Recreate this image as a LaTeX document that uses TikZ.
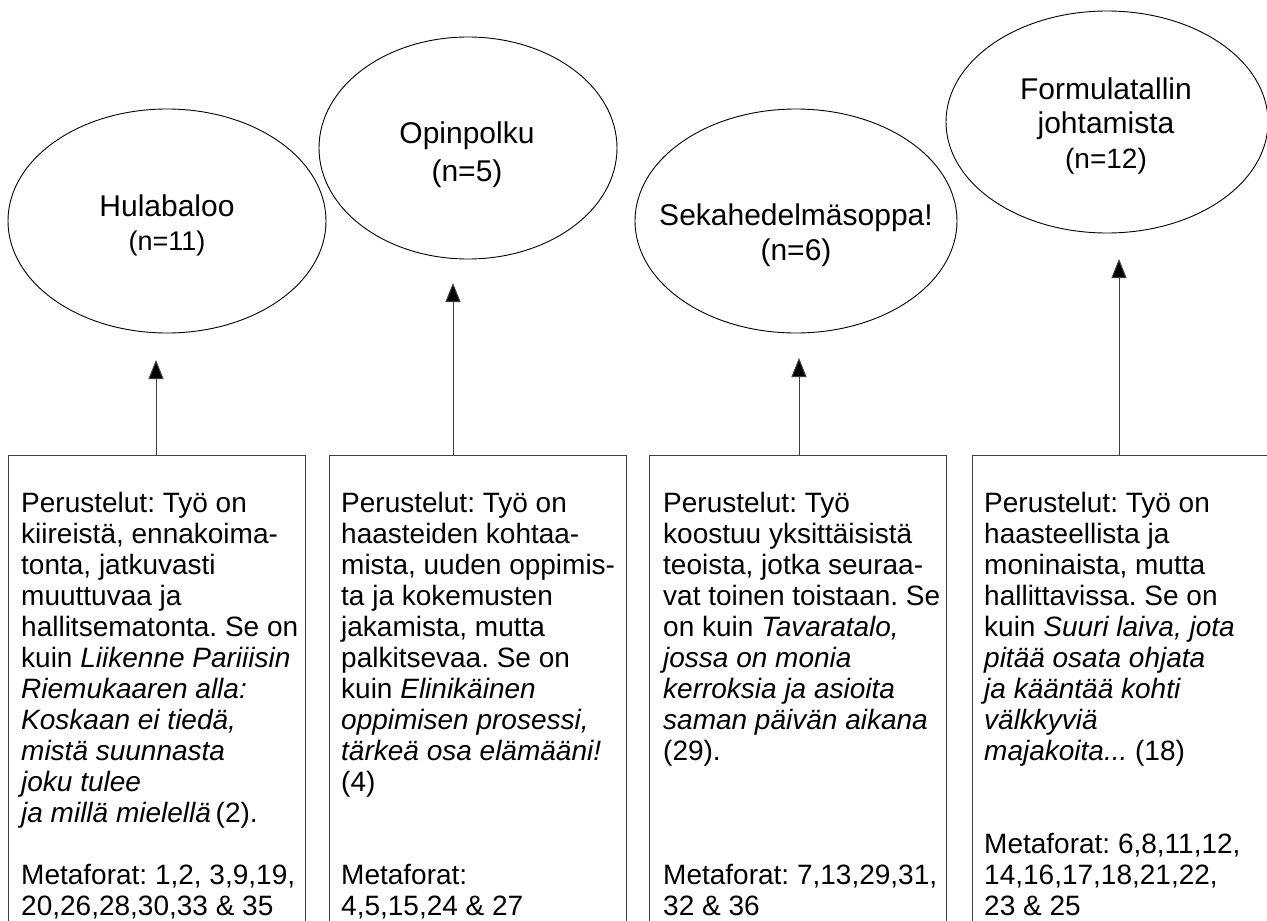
\documentclass[tikz,border=0pt]{standalone}
\usepackage{fontspec}
\setmainfont{Liberation Sans}
\frenchspacing
\usetikzlibrary{shapes.geometric,arrows.meta}
\tikzset{
  oval/.style={draw=black, line width=0.9pt, ellipse, inner sep=0pt},
  textbox/.style={draw=black!75, line width=1pt, rectangle, inner sep=0pt, anchor=north west, minimum width=297pt, minimum height=480pt},
  boxtext/.style={anchor=base west, inner sep=0pt},
  ovaltext/.style={anchor=base, inner sep=0pt},
  arr/.style={draw=black!75, line width=1pt, -{Triangle[length=19pt,width=15pt,fill=black]}},
}
\newcommand{\bodytext}[1]{\parbox[t]{330pt}{\raggedright\frenchspacing\fontsize{28}{31}\selectfont #1}}
\newcommand{\ovaltxt}[2]{\parbox[t]{330pt}{\centering\fontsize{30}{#1}\selectfont #2}}
\begin{document}
\begin{tikzpicture}[x=1pt,y=-1pt]
\clip (0,0) rectangle (1267,921);
\fill[white] (0,0) rectangle (1267,921);

% ellipses
\node[oval, minimum width=318pt, minimum height=224pt] (e1) at (167,221) {};
\node[oval, minimum width=298pt, minimum height=222pt] (e2) at (468,148) {};
\node[oval, minimum width=322pt, minimum height=224pt] (e3) at (796,221) {};
\node[oval, minimum width=322pt, minimum height=222pt] (e4) at (1107,122) {};

\node[ovaltext] (t1) at (167,216) {\ovaltxt{34}{Hulabaloo\\{\fontsize{27}{34}\selectfont (n=11)}}};
\node[ovaltext] (t2) at (467,143) {\ovaltxt{38}{Opinpolku\\(n=5)}};
\node[ovaltext] (t3) at (796,225) {\ovaltxt{35}{Sekahedelmäsoppa!\\(n=6)}};
\node[ovaltext] (t4) at (1106,99) {\ovaltxt{34.5}{Formulatallin\\johtamista\\{\fontsize{28}{34}\selectfont (n=12)}}};

% boxes
\node[textbox] (b1) at (8,455) {};
\node[textbox] (b2) at (329,455) {};
\node[textbox] (b3) at (649,455) {};
\node[textbox] (b4) at (972,455) {};

\node[boxtext] (x1) at (21,512) {\bodytext{Perustelut: Työ on\\
kiireistä, ennakoima-\\
tonta, jatkuvasti\\
muuttuvaa ja\\
hallitsematonta. Se on\\
kuin \textit{Liikenne Pariiisin}\\
\textit{Riemukaaren alla:}\\
\textit{Koskaan ei tiedä,}\\
\textit{mistä suunnasta}\\
\textit{joku tulee}\\
\textit{ja millä mielellä}\,(2).\\[31pt]
Metaforat: 1,2, 3,9,19,\\
20,26,28,30,33 \& 35}};

\node[boxtext] (x2) at (341,512) {\bodytext{Perustelut: Työ on\\
haasteiden kohtaa-\\
mista, uuden oppimis-\\
ta ja kokemusten\\
jakamista, mutta\\
palkitsevaa. Se on\\
kuin \textit{Elinikäinen}\\
\textit{oppimisen prosessi,}\\
\textit{tärkeä osa elämääni!}\\
(4)\\[62pt]
Metaforat:\\
4,5,15,24 \& 27}};

\node[boxtext] (x3) at (663,512) {\bodytext{Perustelut: Työ\\
koostuu yksittäisistä\\
teoista, jotka seuraa-\\
vat toinen toistaan. Se\\
on kuin \textit{Tavaratalo,}\\
\textit{jossa on monia}\\
\textit{kerroksia ja asioita}\\
\textit{saman päivän aikana}\\
(29).\\[93pt]
Metaforat: 7,13,29,31,\\
32 \& 36}};

\node[boxtext] (x4) at (984,512) {\bodytext{Perustelut: Työ on\\
haasteellista ja\\
moninaista, mutta\\
hallittavissa. Se on\\
kuin \textit{Suuri laiva, jota}\\
\textit{pitää osata ohjata}\\
\textit{ja kääntää kohti}\\
\textit{välkkyviä}\\
\textit{majakoita...} (18)\\[62pt]
Metaforat: 6,8,11,12,\\
14,16,17,18,21,22,\\
23 \& 25}};

% arrow tips
\coordinate (p1) at (156,360);
\coordinate (p2) at (453,283);
\coordinate (p3) at (799,358);
\coordinate (p4) at (1119,259);

\draw[arr] (b1.north -| p1) -- (p1);
\draw[arr] (b2.north -| p2) -- (p2);
\draw[arr] (b3.north -| p3) -- (p3);
\draw[arr] (b4.north -| p4) -- (p4);
\end{tikzpicture}
\end{document}
